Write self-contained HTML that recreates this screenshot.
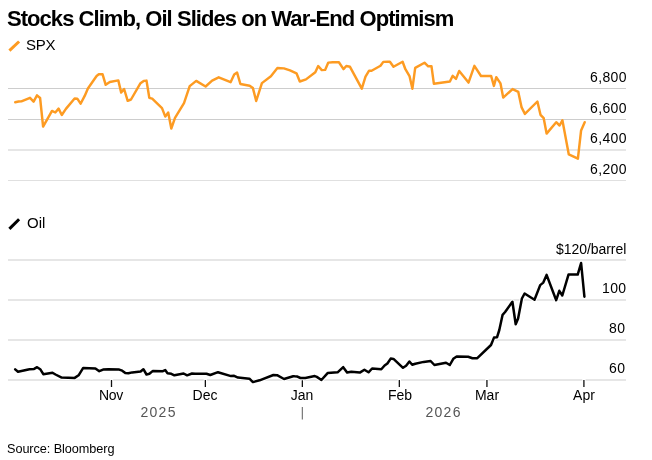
<!DOCTYPE html>
<html><head><meta charset="utf-8"><style>
html,body{margin:0;padding:0;background:#fff;}
body{width:652px;height:460px;position:relative;overflow:hidden;font-family:"Liberation Sans",sans-serif;color:#000;}
.t{position:absolute;white-space:nowrap;will-change:transform;}
svg{position:absolute;left:0;top:0;}
.yl{right:25.2px;font-size:14px;letter-spacing:0.35px;}
.xl{top:387px;width:60px;text-align:center;font-size:14px;letter-spacing:0;}
.yr{top:403.5px;width:80px;text-align:center;font-size:14px;letter-spacing:1.25px;text-indent:1.25px;color:#555;}
</style></head><body>
<svg width="652" height="460" viewBox="0 0 652 460">
<g stroke="#cdcdcd" stroke-width="1" fill="none">
<line x1="8" y1="88.5" x2="626" y2="88.5"/>
<line x1="8" y1="119.5" x2="626" y2="119.5"/>
<line x1="8" y1="150" x2="626" y2="150"/>
<line x1="8" y1="180.5" x2="626" y2="180.5" stroke="#e0e0e0"/>
<line x1="8" y1="260" x2="626" y2="260"/>
<line x1="8" y1="300" x2="626" y2="300"/>
<line x1="8" y1="340" x2="626" y2="340"/>
<line x1="8" y1="380" x2="626" y2="380"/>
</g>
<g stroke="#fff" stroke-width="3.3"><line x1="111.5" y1="379" x2="111.5" y2="387" /><line x1="205.36" y1="379" x2="205.36" y2="387" /><line x1="302.35" y1="379" x2="302.35" y2="387" /><line x1="399.33" y1="379" x2="399.33" y2="387" /><line x1="486.93" y1="379" x2="486.93" y2="387" /><line x1="583.91" y1="379" x2="583.91" y2="387" /></g>
<g stroke="#111" stroke-width="1.3"><line x1="111.5" y1="380" x2="111.5" y2="387" /><line x1="205.36" y1="380" x2="205.36" y2="387" /><line x1="302.35" y1="380" x2="302.35" y2="387" /><line x1="399.33" y1="380" x2="399.33" y2="387" /><line x1="486.93" y1="380" x2="486.93" y2="387" /><line x1="583.91" y1="380" x2="583.91" y2="387" /></g>
<line x1="302.35" y1="407" x2="302.35" y2="419.5" stroke="#777" stroke-width="1.2"/>
<polyline points="15.2,102.3 18.6,101.5 21.4,101.4 30.0,97.8 33.6,101.6 37.0,95.4 40.1,98.0 43.1,126.6 52.0,110.9 55.3,112.5 58.6,108.6 61.8,115.0 65.9,108.9 74.6,98.5 77.3,98.7 80.6,103.7 84.7,95.9 87.9,88.5 96.6,76.0 98.8,74.3 102.6,74.3 105.7,84.8 109.8,82.0 118.3,80.4 121.2,92.6 124.1,89.0 127.7,100.8 131.0,99.5 140.5,83.2 143.7,80.9 146.5,80.6 149.3,97.8 152.2,98.7 162.0,108.1 165.3,116.6 168.2,112.5 171.3,128.5 175.0,117.9 184.0,103.2 189.7,86.1 196.2,80.9 205.6,86.5 212.1,80.6 218.7,77.3 230.6,82.2 234.2,74.6 237.1,72.6 240.4,84.0 249.6,85.7 252.9,88.1 256.2,101.0 261.9,83.1 270.9,76.2 277.4,68.0 283.9,68.4 290.0,70.4 296.5,73.3 299.8,81.5 306.0,79.4 315.3,72.3 318.2,66.0 321.8,70.1 325.1,69.9 328.3,62.6 332.7,62.2 338.9,62.2 343.5,69.1 346.3,66.0 350.0,66.8 361.8,88.7 365.5,76.6 369.1,70.7 371.6,70.7 380.5,65.8 383.3,61.9 387.9,61.7 389.9,61.7 393.5,66.8 402.6,61.7 405.4,69.2 409.5,76.1 412.4,88.7 415.2,67.9 424.5,62.7 428.2,66.3 431.5,66.3 433.9,83.8 449.9,81.5 452.7,75.8 456.0,78.9 459.2,70.9 468.5,82.6 474.4,65.8 481.0,76.0 491.1,75.9 493.9,85.9 496.3,77.2 500.5,83.4 503.2,97.6 512.6,89.1 518.3,91.9 521.6,107.4 524.9,113.9 537.4,101.5 540.5,114.8 543.7,118.2 546.6,133.6 556.2,122.2 559.6,125.5 562.4,120.3 568.8,154.4 577.9,158.7 581.1,130.4 584.7,122.2" fill="none" stroke="#fd9b22" stroke-width="2.45" stroke-linejoin="round" stroke-linecap="round"/>
<polyline points="15.2,369.4 18.0,371.8 29.5,369.2 34.1,368.9 37.1,367.2 40.2,369.2 43.3,374.2 52.5,372.7 55.5,374.5 61.7,377.6 74.7,377.9 78.6,375.3 83.2,367.9 95.4,368.4 99.3,371.2 103.1,369.6 108.4,369.2 119.2,369.6 122.2,370.7 125.3,373.0 128.4,373.3 132.2,372.4 140.6,371.5 143.4,369.2 146.5,374.5 149.4,373.8 152.9,370.9 162.9,371.2 165.2,370.1 167.5,373.2 171.3,373.8 174.4,375.3 183.6,373.5 187.1,375.3 192.0,373.5 195.0,373.8 206.5,373.8 210.3,375.0 218.0,372.2 231.0,376.1 234.1,375.8 238.0,377.6 249.4,378.7 252.9,382.1 259.6,380.3 273.4,375.0 277.1,375.2 284.0,379.0 293.2,376.2 294.6,376.3 296.9,376.4 300.4,378.0 305.3,378.0 314.8,376.1 316.8,376.9 321.4,380.0 327.6,373.1 337.6,372.3 343.2,367.2 347.1,372.6 351.3,371.8 359.8,372.6 364.4,369.7 368.5,372.3 372.1,368.5 381.3,369.3 384.6,365.5 387.4,363.5 390.7,358.6 393.5,358.9 403.0,367.8 406.1,365.8 409.4,361.5 412.2,364.8 415.3,363.7 423.7,361.9 430.6,361.0 434.4,365.0 446.0,362.7 449.8,365.0 453.3,358.8 456.7,356.5 468.2,356.8 472.4,358.2 477.3,358.2 491.0,345.0 494.0,337.6 497.0,337.3 499.3,330.0 502.6,314.8 505.1,312.0 512.4,301.7 515.7,324.2 518.1,318.5 521.9,298.5 524.6,293.5 534.5,299.8 540.2,285.1 543.3,282.6 546.6,274.9 556.2,300.2 559.3,290.8 562.3,295.5 568.5,274.6 577.7,274.6 581.1,263.0 584.4,296.7" fill="none" stroke="#fff" stroke-width="4.5" stroke-linejoin="round" stroke-linecap="round"/>
<polyline points="15.2,369.4 18.0,371.8 29.5,369.2 34.1,368.9 37.1,367.2 40.2,369.2 43.3,374.2 52.5,372.7 55.5,374.5 61.7,377.6 74.7,377.9 78.6,375.3 83.2,367.9 95.4,368.4 99.3,371.2 103.1,369.6 108.4,369.2 119.2,369.6 122.2,370.7 125.3,373.0 128.4,373.3 132.2,372.4 140.6,371.5 143.4,369.2 146.5,374.5 149.4,373.8 152.9,370.9 162.9,371.2 165.2,370.1 167.5,373.2 171.3,373.8 174.4,375.3 183.6,373.5 187.1,375.3 192.0,373.5 195.0,373.8 206.5,373.8 210.3,375.0 218.0,372.2 231.0,376.1 234.1,375.8 238.0,377.6 249.4,378.7 252.9,382.1 259.6,380.3 273.4,375.0 277.1,375.2 284.0,379.0 293.2,376.2 294.6,376.3 296.9,376.4 300.4,378.0 305.3,378.0 314.8,376.1 316.8,376.9 321.4,380.0 327.6,373.1 337.6,372.3 343.2,367.2 347.1,372.6 351.3,371.8 359.8,372.6 364.4,369.7 368.5,372.3 372.1,368.5 381.3,369.3 384.6,365.5 387.4,363.5 390.7,358.6 393.5,358.9 403.0,367.8 406.1,365.8 409.4,361.5 412.2,364.8 415.3,363.7 423.7,361.9 430.6,361.0 434.4,365.0 446.0,362.7 449.8,365.0 453.3,358.8 456.7,356.5 468.2,356.8 472.4,358.2 477.3,358.2 491.0,345.0 494.0,337.6 497.0,337.3 499.3,330.0 502.6,314.8 505.1,312.0 512.4,301.7 515.7,324.2 518.1,318.5 521.9,298.5 524.6,293.5 534.5,299.8 540.2,285.1 543.3,282.6 546.6,274.9 556.2,300.2 559.3,290.8 562.3,295.5 568.5,274.6 577.7,274.6 581.1,263.0 584.4,296.7" fill="none" stroke="#000" stroke-width="2.5" stroke-linejoin="round" stroke-linecap="round"/>
<line x1="9.4" y1="50.6" x2="19.1" y2="41.5" stroke="#fd9a21" stroke-width="3"/>
<line x1="9.4" y1="228.9" x2="19.1" y2="219.3" stroke="#000" stroke-width="3"/>
</svg>
<div class="t" style="left:7.2px;top:6.2px;font-size:22px;letter-spacing:-0.95px;font-weight:bold;">Stocks Climb, Oil Slides on War-End Optimism</div>
<div class="t" style="left:26.3px;top:35.6px;font-size:15px;letter-spacing:-0.3px;">SPX</div>
<div class="t" style="left:27px;top:214px;font-size:15px;">Oil</div>
<div class="t yl" style="top:69px;">6,800</div>
<div class="t yl" style="top:99.5px;">6,600</div>
<div class="t yl" style="top:130px;">6,400</div>
<div class="t yl" style="top:161px;">6,200</div>
<div class="t yl" style="top:240.6px;right:25.8px;letter-spacing:-0.05px;">$120/barrel</div>
<div class="t yl" style="top:280px;">100</div>
<div class="t yl" style="top:320px;right:26.3px;">80</div>
<div class="t yl" style="top:360px;right:26.3px;">60</div>
<div class="t xl" style="left:81.45px;letter-spacing:-0.3px;">Nov</div>
<div class="t xl" style="left:175.45px;">Dec</div>
<div class="t xl" style="left:272.3px;">Jan</div>
<div class="t xl" style="left:369.65px;">Feb</div>
<div class="t xl" style="left:457px;">Mar</div>
<div class="t xl" style="left:553.7px;">Apr</div>
<div class="t yr" style="left:118.15px;">2025</div>
<div class="t yr" style="left:402.9px;">2026</div>
<div class="t" style="left:7px;top:441.5px;font-size:12.7px;letter-spacing:-0.07px;">Source: Bloomberg</div>
</body></html>
